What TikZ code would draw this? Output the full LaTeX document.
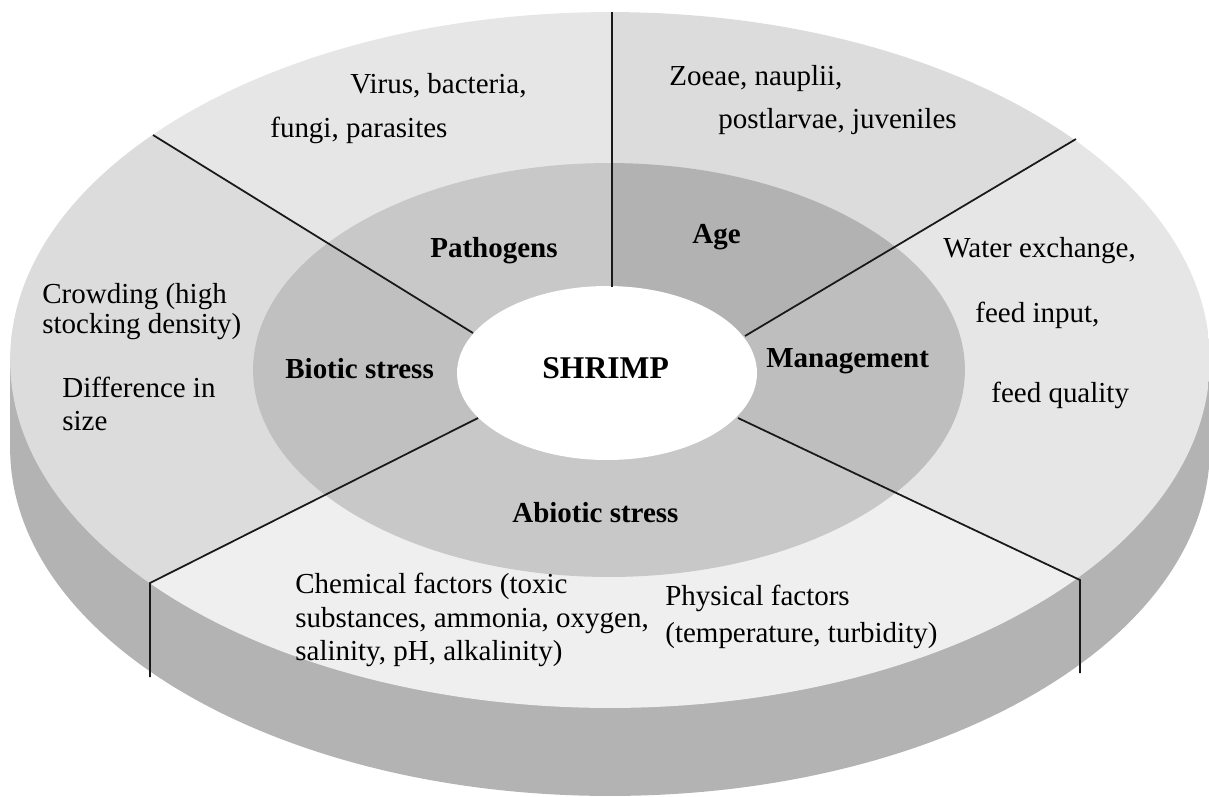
\documentclass[tikz,border=0pt]{standalone}
\usepackage{fontspec}
\setmainfont{Liberation Serif}
\usepackage{xcolor}
\usepackage{tikz}

\definecolor{sidegray}{HTML}{B3B3B3}
\definecolor{outpath}{HTML}{E6E6E6}
\definecolor{outage}{HTML}{DCDCDC}
\definecolor{outbio}{HTML}{DCDCDC}
\definecolor{outabio}{HTML}{EFEFEF}
\definecolor{inpath}{HTML}{C8C8C8}
\definecolor{inage}{HTML}{B2B2B2}
\definecolor{inmgmt}{HTML}{BEBEBE}
\definecolor{inbio}{HTML}{C0C0C0}
\definecolor{inabio}{HTML}{C8C8C8}

\tikzset{
  txt/.style={anchor=base west, inner sep=0pt, font=\fontsize{16.5}{19}\selectfont},
  hd/.style={txt, font=\fontsize{16.5}{19}\selectfont\bfseries},
  cut/.style={draw=black!90, line width=1pt}
}

\begin{document}
\begin{tikzpicture}[x=0.02cm,y=-0.02cm]
\useasboundingbox (0,0) rectangle (1209,796);

\coordinate (c) at (609,373);
\coordinate (pin) at (473,333);
\coordinate (pout) at (153,135);
\coordinate (pfar) at (-167,-63);
\coordinate (ain) at (612,287);
\coordinate (aout) at (612,12);
\coordinate (afar) at (612,-100);
\coordinate (min) at (745,336);
\coordinate (mout) at (1076,139);
\coordinate (mfar) at (1407,-58);
\coordinate (rin) at (738,418);
\coordinate (rout) at (1080,580);
\coordinate (rfar) at (1422,742);
\coordinate (rbot) at (1080,673);
\coordinate (lin) at (478,418);
\coordinate (lout) at (150,583);
\coordinate (lfar) at (-178,748);
\coordinate (lbot) at (150,677);

% side of the disc
\fill[sidegray] (610,448) ellipse [x radius=12cm, y radius=6.96cm];
\fill[sidegray] (10,360) rectangle (1210,448);

% outer ring
\begin{scope}
\clip (610,360) ellipse [x radius=12cm, y radius=6.96cm];
\fill[outpath] (c) -- (pin) -- (pfar) -- (afar) -- (ain) -- cycle;
\fill[outage] (c) -- (ain) -- (afar) -- (mfar) -- (min) -- cycle;
\fill[outpath] (c) -- (min) -- (mfar) -- (1500,300) -- (rfar) -- (rin) -- cycle;
\fill[outabio] (c) -- (rin) -- (rfar) -- (lfar) -- (lin) -- cycle;
\fill[outbio] (c) -- (lin) -- (lfar) -- (pfar) -- (pin) -- cycle;
\end{scope}

% inner ring
\begin{scope}
\clip (609,370) ellipse [x radius=7.12cm, y radius=4.14cm];
\fill[inpath] (c) -- (pin) -- (pfar) -- (afar) -- (ain) -- cycle;
\fill[inage] (c) -- (ain) -- (afar) -- (mfar) -- (min) -- cycle;
\fill[inmgmt] (c) -- (min) -- (mfar) -- (1500,300) -- (rfar) -- (rin) -- cycle;
\fill[inabio] (c) -- (rin) -- (rfar) -- (lfar) -- (lin) -- cycle;
\fill[inbio] (c) -- (lin) -- (lfar) -- (pfar) -- (pin) -- cycle;
\end{scope}

\fill[white] (607,373) ellipse [x radius=3cm, y radius=1.74cm];

% dividing lines
\draw[cut] (ain) -- (aout);
\draw[cut] (pin) -- (pout);
\draw[cut] (min) -- (mout);
\draw[cut] (rin) -- (rout) -- (rbot);
\draw[cut] (lin) -- (lout) -- (lbot);

% labels
\node[txt] (virus) at (350,93) {Virus, bacteria,};
\node[txt] (fungi) at (270,137) {fungi, parasites};
\node[txt] (zoeae) at (669,85) {Zoeae, nauplii,};
\node[txt] (larvae) at (718,128) {postlarvae, juveniles};
\node[hd] (pathogens) at (430,257) {Pathogens};
\node[hd] (age) at (692,243) {Age};

\node[txt] (crowd1) at (42,303) {Crowding (high};
\node[txt] (crowd2) at (42,333) {stocking density)};
\node[txt] (diff1) at (62,397) {Difference in};
\node[txt] (diff2) at (62,430) {size};
\node[hd] (biotic) at (285,378) {Biotic stress};
\node[txt, font=\fontsize{18}{21}\selectfont\bfseries] (shrimp) at (542,378) {SHRIMP};
\node[hd] (mgmt) at (766,367) {Management};

\node[txt] (water) at (943,257) {Water exchange,};
\node[txt] (feedin) at (975,322) {feed input,};
\node[txt] (feedq) at (991,402) {feed quality};

\node[hd] (abiotic) at (512,522) {Abiotic stress};
\node[txt] (chem1) at (295,593) {Chemical factors (toxic};
\node[txt] (chem2) at (295,627) {substances, ammonia, oxygen,};
\node[txt] (chem3) at (295,660) {salinity, pH, alkalinity)};
\node[txt] (phys1) at (665,605) {Physical factors};
\node[txt] (phys2) at (665,642) {(temperature, turbidity)};
\end{tikzpicture}
\end{document}
